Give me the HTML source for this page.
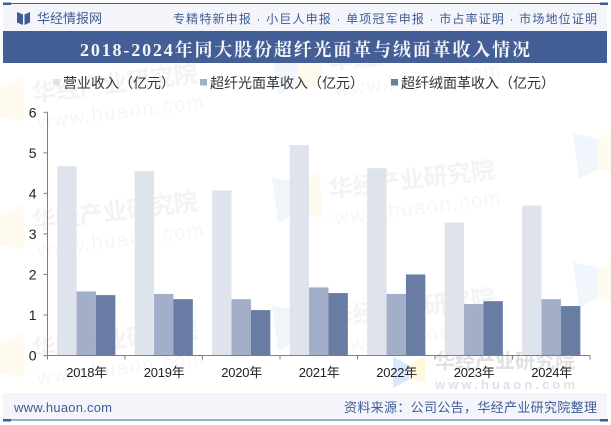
<!DOCTYPE html>
<html>
<head>
<meta charset="utf-8">
<style>
html,body{margin:0;padding:0;background:#fff}
#page{position:relative;width:611px;height:425px;overflow:hidden;background:#fff;font-family:"Liberation Sans","Noto Sans CJK SC",sans-serif}
svg{position:absolute;left:0;top:0}
</style>
</head>
<body>
<div id="page">
<svg id="chart" width="611" height="425" viewBox="0 0 611 425">
  <g id="watermarks"></g>

  <g>
    <path d="M393 357 L409 365 V380 L393 388 Z" fill="#d9e8fc"/>
    <path d="M409 365 L425 356 V381 L409 380 Z" fill="#fdf8da"/>
    <text x="435" y="368" font-size="20" font-weight="700" fill="#e0e1e2" textLength="140">华经产业研究院</text>
    <text x="435" y="389" font-size="13" font-weight="700" fill="#e0e1e2" textLength="140">www.huaon.com</text>
  </g>

  <rect x="3" y="3" width="604" height="28" fill="#f3f5fa"/>
  <rect x="3" y="3" width="604" height="1" fill="#3f5c96"/>
  <rect x="3" y="2.500" width="8" height="2.500" fill="#3f5c96"/>
  <rect x="600" y="2.500" width="8" height="2.500" fill="#3f5c96"/>
  <path d="M17 12 L23 14.500 V25 L17 22.500 Z M30 12 L24.500 14.500 V25 L30 22.500 Z" fill="#3f5c96"/>
  <text x="37" y="23" font-size="13" fill="#3f5c96" textLength="65">华经情报网</text>
  <text x="173" y="23" font-size="12" fill="#3f5c96" textLength="424">专精特新申报 · 小巨人申报 · 单项冠军申报 · 市占率证明 · 市场地位证明</text>

  <rect x="3" y="31" width="604" height="32" fill="#445e96"/>
  <text x="80" y="56" font-size="18" font-weight="700" fill="#f4f5f9" textLength="450" style="font-family:'Liberation Serif','Noto Serif CJK SC',serif">2018-2024年同大股份超纤光面革与绒面革收入情况</text>

  <g id="legend"></g>
  <g id="bars"></g>
  <g id="axes"></g>

  <rect x="3" y="393" width="604" height="26" fill="#f3f5fa"/>
  <rect x="3" y="419.500" width="604" height="1" fill="#3f5c96"/>
  <rect x="3" y="419" width="8" height="2.500" fill="#3f5c96"/>
  <rect x="600" y="419" width="8" height="2.500" fill="#3f5c96"/>
  <text x="14" y="412" font-size="13" fill="#3f5c96" textLength="98">www.huaon.com</text>
  <text x="344" y="412" font-size="13" fill="#3f5c96" textLength="253">资料来源：公司公告，华经产业研究院整理</text>
</svg>
</div>
<script>
const categories = ['2018年','2019年','2020年','2021年','2022年','2023年','2024年'];
const revenue = [4.67,4.55,4.07,5.19,4.62,3.28,3.70];
const smoothLeather = [1.58,1.52,1.39,1.68,1.52,1.27,1.39];
const suedeLeather = [1.49,1.39,1.12,1.54,2.00,1.34,1.22];
const yTicks = [0,1,2,3,4,5,6];
const seriesNames = ['营业收入（亿元）','超纤光面革收入（亿元）','超纤绒面革收入（亿元）'];
const seriesColors = ['#dfe3ec','#a3afc8','#687ca4'];

const NS = 'http://www.w3.org/2000/svg';
const plot = {left:47.5, right:590, top:112.3, bottom:355.5, yMax:6};
const catW = (plot.right - plot.left) / categories.length;
const barW = 19.4;
const groupPad = (catW - barW * 3) / 2;
const yScale = v => plot.bottom - (v / plot.yMax) * (plot.bottom - plot.top);
const xBand = i => plot.left + i * catW;

function make(tag, attrs, parent, txt){
  const el = document.createElementNS(NS, tag);
  for (const k in attrs) el.setAttribute(k, attrs[k]);
  if (txt !== undefined) el.textContent = txt;
  parent.appendChild(el);
  return el;
}

/* faint repeating watermarks, anchored at the left baseline of each name */
const wmGroup = document.getElementById('watermarks');
const wmSpots = [[33,102],[33,230],[33,358],[330,70],[330,198],[330,326],[631,154],[631,283]];
wmSpots.forEach(function(p){
  const g = make('g', {transform:'translate('+p[0]+' '+p[1]+')'}, wmGroup);
  
  
  const a = make('path', {d:'M-58 -21 L-33 -15 V15 L-52 25 Z', fill:'#f1f6fd'}, g);
  
  
  const b = make('path', {d:'M-33 -15 L-10 -25 L-8 20 L-33 15 Z', fill:'#fefbee'}, g);
  
  
  const t = make('text', {x:0, y:0, 'font-size':'24', 'font-weight':'700', fill:'#f3f3f5', transform:'rotate(-7)', textLength:'167'}, g, '华经产业研究院');
  
  
  const u = make('text', {x:2, y:27, 'font-size':'20', fill:'#f6f6f8', transform:'rotate(-7)', textLength:'167'}, g, 'www.huaon.com');
  
  
});

/* legend */
const legendGroup = document.getElementById('legend');
const legendX = [53, 200, 391];
const legendW = [112, 154, 154];
seriesNames.forEach(function(name, i){
  const r = make('rect', {x:legendX[i], y:79, width:7, height:6.5, fill:seriesColors[i]}, legendGroup);
  
  
  const t = make('text', {x:legendX[i]+10, y:88, 'font-size':'14', fill:'#333', textLength:legendW[i]}, legendGroup, name);
  
  
});

/* bars */
const barsGroup = document.getElementById('bars');
[revenue, smoothLeather, suedeLeather].forEach(function(series, s){
  series.forEach(function(v, i){
    const y = yScale(v);
    const r = make('rect', {x:xBand(i)+groupPad+s*barW, y:y, width:barW, height:plot.bottom-y, fill:seriesColors[s]}, barsGroup);
    
    
  });
});

/* axes */
const axesGroup = document.getElementById('axes');
const yLine = make('line', {x1:plot.left, x2:plot.left, y1:plot.top, y2:plot.bottom, stroke:'#7f7f7f'}, axesGroup);


const xLine = make('line', {x1:plot.left-4, x2:plot.right+0.5, y1:plot.bottom, y2:plot.bottom, stroke:'#7f7f7f'}, axesGroup);


yTicks.forEach(function(v){
  const y = yScale(v);
  const tick = make('line', {x1:plot.left-4, x2:plot.left, y1:y, y2:y, stroke:'#7f7f7f'}, axesGroup);
  
  
  const label = make('text', {x:plot.left-11, y:y+5, 'font-size':'14', fill:'#222', 'text-anchor':'end'}, axesGroup, String(v));
  
  
});
for (let i = 0; i <= categories.length; i++){
  const x = xBand(i);
  const tick = make('line', {x1:x, x2:x, y1:plot.bottom, y2:plot.bottom+4, stroke:'#7f7f7f'}, axesGroup);
  
  
}
categories.forEach(function(c, i){
  const label = make('text', {x:xBand(i)+catW/2-20, y:377, 'font-size':'13', fill:'#222', textLength:'41'}, axesGroup, c);
  
  
});
</script>
</body>
</html>
